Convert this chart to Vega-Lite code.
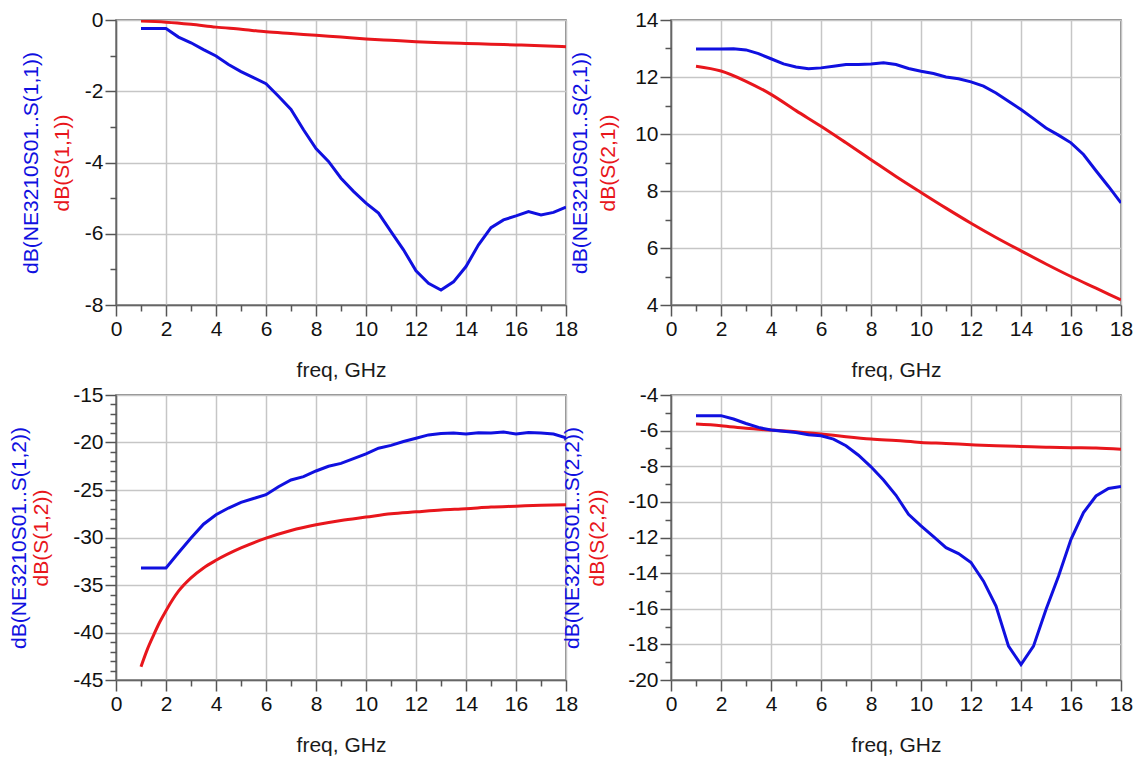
{
  "$schema": "https://vega.github.io/schema/vega-lite/v6.json",
  "padding": {"left": 7, "top": 8, "right": 4, "bottom": 2},
  "columns": 2,
  "bounds": "flush",
  "spacing": {"row": 90, "column": 105},
  "datasets": {
    "s11": [
      {"f": 1, "trace": "S", "dB": -0.03}, {"f": 2, "trace": "S", "dB": -0.06}, {"f": 3, "trace": "S", "dB": -0.12}, {"f": 4, "trace": "S", "dB": -0.2}, {"f": 5, "trace": "S", "dB": -0.26}, {"f": 6, "trace": "S", "dB": -0.33}, {"f": 7, "trace": "S", "dB": -0.38}, {"f": 8, "trace": "S", "dB": -0.43}, {"f": 9, "trace": "S", "dB": -0.48}, {"f": 10, "trace": "S", "dB": -0.53}, {"f": 11, "trace": "S", "dB": -0.57}, {"f": 12, "trace": "S", "dB": -0.61}, {"f": 13, "trace": "S", "dB": -0.64}, {"f": 14, "trace": "S", "dB": -0.66}, {"f": 15, "trace": "S", "dB": -0.68}, {"f": 16, "trace": "S", "dB": -0.7}, {"f": 17, "trace": "S", "dB": -0.72}, {"f": 18, "trace": "S", "dB": -0.75},
      {"f": 1, "trace": "NE", "dB": -0.24}, {"f": 1.5, "trace": "NE", "dB": -0.24}, {"f": 2, "trace": "NE", "dB": -0.24}, {"f": 2.5, "trace": "NE", "dB": -0.48}, {"f": 3, "trace": "NE", "dB": -0.64}, {"f": 3.5, "trace": "NE", "dB": -0.83}, {"f": 4, "trace": "NE", "dB": -1.01}, {"f": 4.5, "trace": "NE", "dB": -1.25}, {"f": 5, "trace": "NE", "dB": -1.45}, {"f": 5.5, "trace": "NE", "dB": -1.62}, {"f": 6, "trace": "NE", "dB": -1.79}, {"f": 6.5, "trace": "NE", "dB": -2.14}, {"f": 7, "trace": "NE", "dB": -2.51}, {"f": 7.5, "trace": "NE", "dB": -3.08}, {"f": 8, "trace": "NE", "dB": -3.61}, {"f": 8.5, "trace": "NE", "dB": -3.97}, {"f": 9, "trace": "NE", "dB": -4.44}, {"f": 9.5, "trace": "NE", "dB": -4.81}, {"f": 10, "trace": "NE", "dB": -5.14}, {"f": 10.5, "trace": "NE", "dB": -5.42}, {"f": 11, "trace": "NE", "dB": -5.94}, {"f": 11.5, "trace": "NE", "dB": -6.45}, {"f": 12, "trace": "NE", "dB": -7.04}, {"f": 12.5, "trace": "NE", "dB": -7.39}, {"f": 13, "trace": "NE", "dB": -7.58}, {"f": 13.5, "trace": "NE", "dB": -7.35}, {"f": 14, "trace": "NE", "dB": -6.92}, {"f": 14.5, "trace": "NE", "dB": -6.31}, {"f": 15, "trace": "NE", "dB": -5.83}, {"f": 15.5, "trace": "NE", "dB": -5.61}, {"f": 16, "trace": "NE", "dB": -5.5}, {"f": 16.5, "trace": "NE", "dB": -5.38}, {"f": 17, "trace": "NE", "dB": -5.47}, {"f": 17.5, "trace": "NE", "dB": -5.4}, {"f": 18, "trace": "NE", "dB": -5.25}
    ],
    "s21": [
      {"f": 1, "trace": "S", "dB": 12.38}, {"f": 2, "trace": "S", "dB": 12.21}, {"f": 3, "trace": "S", "dB": 11.85}, {"f": 4, "trace": "S", "dB": 11.39}, {"f": 5, "trace": "S", "dB": 10.82}, {"f": 6, "trace": "S", "dB": 10.27}, {"f": 7, "trace": "S", "dB": 9.69}, {"f": 8, "trace": "S", "dB": 9.1}, {"f": 9, "trace": "S", "dB": 8.51}, {"f": 10, "trace": "S", "dB": 7.95}, {"f": 11, "trace": "S", "dB": 7.4}, {"f": 12, "trace": "S", "dB": 6.87}, {"f": 13, "trace": "S", "dB": 6.37}, {"f": 14, "trace": "S", "dB": 5.9}, {"f": 15, "trace": "S", "dB": 5.44}, {"f": 16, "trace": "S", "dB": 5.0}, {"f": 17, "trace": "S", "dB": 4.59}, {"f": 18, "trace": "S", "dB": 4.18},
      {"f": 1, "trace": "NE", "dB": 12.98}, {"f": 1.5, "trace": "NE", "dB": 12.98}, {"f": 2, "trace": "NE", "dB": 12.98}, {"f": 2.5, "trace": "NE", "dB": 12.99}, {"f": 3, "trace": "NE", "dB": 12.95}, {"f": 3.5, "trace": "NE", "dB": 12.82}, {"f": 4, "trace": "NE", "dB": 12.64}, {"f": 4.5, "trace": "NE", "dB": 12.46}, {"f": 5, "trace": "NE", "dB": 12.35}, {"f": 5.5, "trace": "NE", "dB": 12.29}, {"f": 6, "trace": "NE", "dB": 12.32}, {"f": 6.5, "trace": "NE", "dB": 12.38}, {"f": 7, "trace": "NE", "dB": 12.44}, {"f": 7.5, "trace": "NE", "dB": 12.44}, {"f": 8, "trace": "NE", "dB": 12.46}, {"f": 8.5, "trace": "NE", "dB": 12.5}, {"f": 9, "trace": "NE", "dB": 12.44}, {"f": 9.5, "trace": "NE", "dB": 12.3}, {"f": 10, "trace": "NE", "dB": 12.2}, {"f": 10.5, "trace": "NE", "dB": 12.12}, {"f": 11, "trace": "NE", "dB": 12.0}, {"f": 11.5, "trace": "NE", "dB": 11.94}, {"f": 12, "trace": "NE", "dB": 11.83}, {"f": 12.5, "trace": "NE", "dB": 11.68}, {"f": 13, "trace": "NE", "dB": 11.44}, {"f": 13.5, "trace": "NE", "dB": 11.15}, {"f": 14, "trace": "NE", "dB": 10.86}, {"f": 14.5, "trace": "NE", "dB": 10.54}, {"f": 15, "trace": "NE", "dB": 10.21}, {"f": 15.5, "trace": "NE", "dB": 9.96}, {"f": 16, "trace": "NE", "dB": 9.69}, {"f": 16.5, "trace": "NE", "dB": 9.28}, {"f": 17, "trace": "NE", "dB": 8.71}, {"f": 17.5, "trace": "NE", "dB": 8.16}, {"f": 18, "trace": "NE", "dB": 7.58}
    ],
    "s12": [
      {"f": 1, "trace": "S", "dB": -43.6}, {"f": 1.25, "trace": "S", "dB": -41.8}, {"f": 1.5, "trace": "S", "dB": -40.3}, {"f": 1.75, "trace": "S", "dB": -38.9}, {"f": 2, "trace": "S", "dB": -37.7}, {"f": 2.5, "trace": "S", "dB": -35.65}, {"f": 3, "trace": "S", "dB": -34.25}, {"f": 3.5, "trace": "S", "dB": -33.2}, {"f": 4, "trace": "S", "dB": -32.4}, {"f": 5, "trace": "S", "dB": -31.1}, {"f": 6, "trace": "S", "dB": -30.07}, {"f": 7, "trace": "S", "dB": -29.26}, {"f": 8, "trace": "S", "dB": -28.66}, {"f": 9, "trace": "S", "dB": -28.2}, {"f": 10, "trace": "S", "dB": -27.85}, {"f": 11, "trace": "S", "dB": -27.5}, {"f": 12, "trace": "S", "dB": -27.3}, {"f": 13, "trace": "S", "dB": -27.1}, {"f": 14, "trace": "S", "dB": -26.97}, {"f": 15, "trace": "S", "dB": -26.8}, {"f": 16, "trace": "S", "dB": -26.7}, {"f": 17, "trace": "S", "dB": -26.6}, {"f": 18, "trace": "S", "dB": -26.55},
      {"f": 1, "trace": "NE", "dB": -33.2}, {"f": 1.5, "trace": "NE", "dB": -33.2}, {"f": 2, "trace": "NE", "dB": -33.2}, {"f": 2.5, "trace": "NE", "dB": -31.6}, {"f": 3, "trace": "NE", "dB": -30.05}, {"f": 3.5, "trace": "NE", "dB": -28.6}, {"f": 4, "trace": "NE", "dB": -27.6}, {"f": 4.5, "trace": "NE", "dB": -26.9}, {"f": 5, "trace": "NE", "dB": -26.3}, {"f": 5.5, "trace": "NE", "dB": -25.9}, {"f": 6, "trace": "NE", "dB": -25.5}, {"f": 6.5, "trace": "NE", "dB": -24.65}, {"f": 7, "trace": "NE", "dB": -23.95}, {"f": 7.5, "trace": "NE", "dB": -23.6}, {"f": 8, "trace": "NE", "dB": -23.0}, {"f": 8.5, "trace": "NE", "dB": -22.5}, {"f": 9, "trace": "NE", "dB": -22.2}, {"f": 9.5, "trace": "NE", "dB": -21.7}, {"f": 10, "trace": "NE", "dB": -21.2}, {"f": 10.5, "trace": "NE", "dB": -20.6}, {"f": 11, "trace": "NE", "dB": -20.3}, {"f": 11.5, "trace": "NE", "dB": -19.9}, {"f": 12, "trace": "NE", "dB": -19.55}, {"f": 12.5, "trace": "NE", "dB": -19.2}, {"f": 13, "trace": "NE", "dB": -19.05}, {"f": 13.5, "trace": "NE", "dB": -19.0}, {"f": 14, "trace": "NE", "dB": -19.1}, {"f": 14.5, "trace": "NE", "dB": -18.98}, {"f": 15, "trace": "NE", "dB": -19.0}, {"f": 15.5, "trace": "NE", "dB": -18.9}, {"f": 16, "trace": "NE", "dB": -19.1}, {"f": 16.5, "trace": "NE", "dB": -18.95}, {"f": 17, "trace": "NE", "dB": -19.0}, {"f": 17.5, "trace": "NE", "dB": -19.1}, {"f": 18, "trace": "NE", "dB": -19.5}
    ],
    "s22": [
      {"f": 1, "trace": "S", "dB": -5.63}, {"f": 2, "trace": "S", "dB": -5.72}, {"f": 3, "trace": "S", "dB": -5.87}, {"f": 4, "trace": "S", "dB": -5.97}, {"f": 5, "trace": "S", "dB": -6.06}, {"f": 6, "trace": "S", "dB": -6.19}, {"f": 7, "trace": "S", "dB": -6.34}, {"f": 8, "trace": "S", "dB": -6.47}, {"f": 9, "trace": "S", "dB": -6.56}, {"f": 10, "trace": "S", "dB": -6.66}, {"f": 11, "trace": "S", "dB": -6.72}, {"f": 12, "trace": "S", "dB": -6.79}, {"f": 13, "trace": "S", "dB": -6.85}, {"f": 14, "trace": "S", "dB": -6.89}, {"f": 15, "trace": "S", "dB": -6.93}, {"f": 16, "trace": "S", "dB": -6.96}, {"f": 17, "trace": "S", "dB": -6.98}, {"f": 18, "trace": "S", "dB": -7.04},
      {"f": 1, "trace": "NE", "dB": -5.16}, {"f": 1.5, "trace": "NE", "dB": -5.16}, {"f": 2, "trace": "NE", "dB": -5.16}, {"f": 2.5, "trace": "NE", "dB": -5.35}, {"f": 3, "trace": "NE", "dB": -5.6}, {"f": 3.5, "trace": "NE", "dB": -5.82}, {"f": 4, "trace": "NE", "dB": -5.97}, {"f": 4.5, "trace": "NE", "dB": -6.04}, {"f": 5, "trace": "NE", "dB": -6.1}, {"f": 5.5, "trace": "NE", "dB": -6.23}, {"f": 6, "trace": "NE", "dB": -6.29}, {"f": 6.5, "trace": "NE", "dB": -6.48}, {"f": 7, "trace": "NE", "dB": -6.85}, {"f": 7.5, "trace": "NE", "dB": -7.38}, {"f": 8, "trace": "NE", "dB": -8.03}, {"f": 8.5, "trace": "NE", "dB": -8.77}, {"f": 9, "trace": "NE", "dB": -9.63}, {"f": 9.5, "trace": "NE", "dB": -10.7}, {"f": 10, "trace": "NE", "dB": -11.35}, {"f": 10.5, "trace": "NE", "dB": -11.95}, {"f": 11, "trace": "NE", "dB": -12.57}, {"f": 11.5, "trace": "NE", "dB": -12.9}, {"f": 12, "trace": "NE", "dB": -13.4}, {"f": 12.5, "trace": "NE", "dB": -14.45}, {"f": 13, "trace": "NE", "dB": -15.85}, {"f": 13.5, "trace": "NE", "dB": -18.1}, {"f": 14, "trace": "NE", "dB": -19.13}, {"f": 14.5, "trace": "NE", "dB": -18.1}, {"f": 15, "trace": "NE", "dB": -16.04}, {"f": 15.5, "trace": "NE", "dB": -14.17}, {"f": 16, "trace": "NE", "dB": -12.1}, {"f": 16.5, "trace": "NE", "dB": -10.6}, {"f": 17, "trace": "NE", "dB": -9.67}, {"f": 17.5, "trace": "NE", "dB": -9.25}, {"f": 18, "trace": "NE", "dB": -9.14}
    ]
  },
  "concat": [
    {
      "width": 450, "height": 285,
      "data": {"name": "s11"},
      "resolve": {"axis": {"x": "independent", "y": "independent"}},
      "layer": [
        {
          "transform": [{"filter": "datum.trace == 'S'"}],
          "mark": {"type": "line", "color": "#e8161c", "strokeWidth": 3, "interpolate": "monotone", "clip": true},
          "encoding": {
            "x": {"field": "f", "type": "quantitative", "scale": {"domain": [0, 18], "nice": false}, "axis": {"orient": "bottom", "values": [0, 2, 4, 6, 8, 10, 12, 14, 16, 18], "grid": true, "tickSize": 11, "title": "freq, GHz", "titlePadding": 20}},
            "y": {"field": "dB", "type": "quantitative", "scale": {"domain": [-8, 0], "nice": false, "zero": false}, "axis": {"orient": "left", "values": [-8, -6, -4, -2, 0], "grid": true, "tickSize": 11, "title": "dB(S(1,1))", "titleColor": "#e8161c", "titlePadding": 12}}
          }
        },
        {
          "transform": [{"filter": "datum.trace == 'NE'"}],
          "mark": {"type": "line", "color": "#1010e0", "strokeWidth": 3, "clip": true},
          "encoding": {
            "x": {"field": "f", "type": "quantitative", "axis": {"orient": "bottom", "values": [1, 3, 5, 7, 9, 11, 13, 15, 17], "grid": false, "labels": false, "domain": false, "ticks": true, "tickSize": 6, "title": null}},
            "y": {"field": "dB", "type": "quantitative", "axis": {"orient": "left", "values": [-7, -5, -3, -1], "grid": false, "labels": false, "domain": false, "ticks": true, "tickSize": 6, "title": "dB(NE3210S01..S(1,1))", "titleColor": "#1010e0", "titlePadding": 68}}
          }
        }
      ]
    },
    {
      "width": 450, "height": 285,
      "data": {"name": "s21"},
      "resolve": {"axis": {"x": "independent", "y": "independent"}},
      "layer": [
        {
          "transform": [{"filter": "datum.trace == 'S'"}],
          "mark": {"type": "line", "color": "#e8161c", "strokeWidth": 3, "interpolate": "monotone", "clip": true},
          "encoding": {
            "x": {"field": "f", "type": "quantitative", "scale": {"domain": [0, 18], "nice": false}, "axis": {"orient": "bottom", "values": [0, 2, 4, 6, 8, 10, 12, 14, 16, 18], "grid": true, "tickSize": 11, "title": "freq, GHz", "titlePadding": 20}},
            "y": {"field": "dB", "type": "quantitative", "scale": {"domain": [4, 14], "nice": false, "zero": false}, "axis": {"orient": "left", "values": [4, 6, 8, 10, 12, 14], "grid": true, "tickSize": 11, "title": "dB(S(2,1))", "titleColor": "#e8161c", "titlePadding": 16}}
          }
        },
        {
          "transform": [{"filter": "datum.trace == 'NE'"}],
          "mark": {"type": "line", "color": "#1010e0", "strokeWidth": 3, "clip": true},
          "encoding": {
            "x": {"field": "f", "type": "quantitative", "axis": {"orient": "bottom", "values": [1, 3, 5, 7, 9, 11, 13, 15, 17], "grid": false, "labels": false, "domain": false, "ticks": true, "tickSize": 6, "title": null}},
            "y": {"field": "dB", "type": "quantitative", "axis": {"orient": "left", "values": [5, 7, 9, 11, 13], "grid": false, "labels": false, "domain": false, "ticks": true, "tickSize": 6, "title": "dB(NE3210S01..S(2,1))", "titleColor": "#1010e0", "titlePadding": 74}}
          }
        }
      ]
    },
    {
      "width": 450, "height": 285,
      "data": {"name": "s12"},
      "resolve": {"axis": {"x": "independent", "y": "independent"}},
      "layer": [
        {
          "transform": [{"filter": "datum.trace == 'S'"}],
          "mark": {"type": "line", "color": "#e8161c", "strokeWidth": 3, "interpolate": "monotone", "clip": true},
          "encoding": {
            "x": {"field": "f", "type": "quantitative", "scale": {"domain": [0, 18], "nice": false}, "axis": {"orient": "bottom", "values": [0, 2, 4, 6, 8, 10, 12, 14, 16, 18], "grid": true, "tickSize": 11, "title": "freq, GHz", "titlePadding": 20}},
            "y": {"field": "dB", "type": "quantitative", "scale": {"domain": [-45, -15], "nice": false, "zero": false}, "axis": {"orient": "left", "values": [-45, -40, -35, -30, -25, -20, -15], "grid": true, "tickSize": 11, "title": "dB(S(1,2))", "titleColor": "#e8161c", "titlePadding": 21}}
          }
        },
        {
          "transform": [{"filter": "datum.trace == 'NE'"}],
          "mark": {"type": "line", "color": "#1010e0", "strokeWidth": 3, "clip": true},
          "encoding": {
            "x": {"field": "f", "type": "quantitative", "axis": {"orient": "bottom", "values": [1, 3, 5, 7, 9, 11, 13, 15, 17], "grid": false, "labels": false, "domain": false, "ticks": true, "tickSize": 6, "title": null}},
            "y": {"field": "dB", "type": "quantitative", "axis": {"orient": "left", "values": [-44, -43, -42, -41, -39, -38, -37, -36, -34, -33, -32, -31, -29, -28, -27, -26, -24, -23, -22, -21, -19, -18, -17, -16], "grid": false, "labels": false, "domain": false, "ticks": true, "tickSize": 6, "title": "dB(NE3210S01..S(1,2))", "titleColor": "#1010e0", "titlePadding": 80}}
          }
        }
      ]
    },
    {
      "width": 450, "height": 285,
      "data": {"name": "s22"},
      "resolve": {"axis": {"x": "independent", "y": "independent"}},
      "layer": [
        {
          "transform": [{"filter": "datum.trace == 'S'"}],
          "mark": {"type": "line", "color": "#e8161c", "strokeWidth": 3, "interpolate": "monotone", "clip": true},
          "encoding": {
            "x": {"field": "f", "type": "quantitative", "scale": {"domain": [0, 18], "nice": false}, "axis": {"orient": "bottom", "values": [0, 2, 4, 6, 8, 10, 12, 14, 16, 18], "grid": true, "tickSize": 11, "title": "freq, GHz", "titlePadding": 20}},
            "y": {"field": "dB", "type": "quantitative", "scale": {"domain": [-20, -4], "nice": false, "zero": false}, "axis": {"orient": "left", "values": [-20, -18, -16, -14, -12, -10, -8, -6, -4], "grid": true, "tickSize": 11, "title": "dB(S(2,2))", "titleColor": "#e8161c", "titlePadding": 20}}
          }
        },
        {
          "transform": [{"filter": "datum.trace == 'NE'"}],
          "mark": {"type": "line", "color": "#1010e0", "strokeWidth": 3, "clip": true},
          "encoding": {
            "x": {"field": "f", "type": "quantitative", "axis": {"orient": "bottom", "values": [1, 3, 5, 7, 9, 11, 13, 15, 17], "grid": false, "labels": false, "domain": false, "ticks": true, "tickSize": 6, "title": null}},
            "y": {"field": "dB", "type": "quantitative", "axis": {"orient": "left", "values": [-19, -17, -15, -13, -11, -9, -7, -5], "grid": false, "labels": false, "domain": false, "ticks": true, "tickSize": 6, "title": "dB(NE3210S01..S(2,2))", "titleColor": "#1010e0", "titlePadding": 82}}
          }
        }
      ]
    }
  ],
  "config": {
    "font": "Liberation Sans",
    "background": "white",
    "view": {"stroke": "#666666", "strokeWidth": 1.5},
    "axis": {
      "domainColor": "#666666", "domainWidth": 1.5,
      "tickColor": "#555555", "tickWidth": 1.5,
      "gridColor": "#c6c6c6", "gridWidth": 1.5, "gridOpacity": 1,
      "labelFont": "Liberation Sans", "labelFontSize": 21, "labelColor": "#111111", "labelPadding": 2,
      "labelFlush": false, "labelOverlap": false, "labelExpr": "datum.value + ''",
      "titleFont": "Liberation Sans", "titleFontSize": 21, "titleFontWeight": "normal", "titleColor": "#1a1a1a",
      "minExtent": 0
    }
  }
}
